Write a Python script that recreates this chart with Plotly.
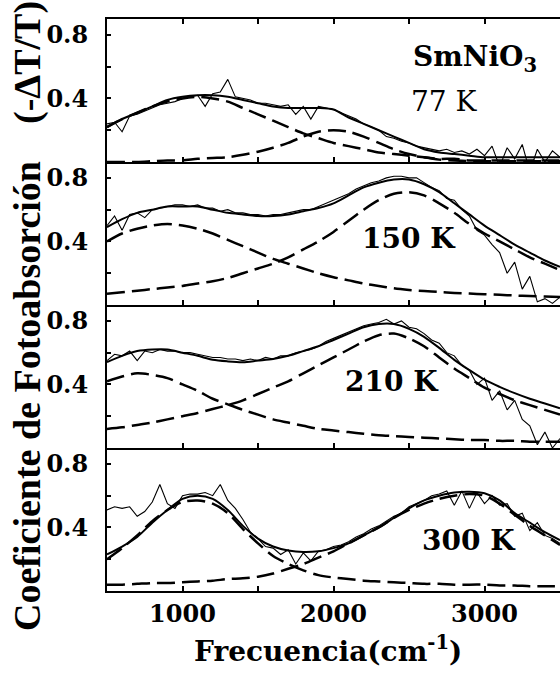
import plotly.graph_objects as go

# ---------------- data ----------------
freq_fit = [500, 600, 700, 800, 900, 1000, 1100, 1200, 1300, 1400, 1500, 1600, 1700, 1800, 1900, 2000,
            2100, 2200, 2300, 2400, 2500, 2600, 2700, 2800, 2900, 3000, 3100, 3200, 3300, 3400, 3500]
freq_exp = [500, 550, 600, 650, 700, 750, 800, 850, 900, 950, 1000, 1050, 1100, 1150, 1200, 1250, 1300,
            1350, 1400, 1450, 1500, 1550, 1600, 1650, 1700, 1750, 1800, 1850, 1900, 1950, 2000, 2050,
            2100, 2150, 2200, 2250, 2300, 2350, 2400, 2450, 2500, 2550, 2600, 2650, 2700, 2750, 2800,
            2850, 2900, 2950, 3000, 3050, 3100, 3150, 3200, 3250, 3300, 3350, 3400, 3450, 3500]

temps = ["77 K", "150 K", "210 K", "300 K"]

# 77 K
exp_77 = [0.24, 0.25, 0.19, 0.29, 0.30, 0.32, 0.34, 0.36, 0.37, 0.38, 0.40, 0.41, 0.42, 0.35, 0.43, 0.44,
          0.52, 0.41, 0.40, 0.39, 0.37, 0.37, 0.36, 0.35, 0.36, 0.30, 0.35, 0.27, 0.35, 0.34, 0.33, 0.31,
          0.29, 0.27, 0.24, 0.22, 0.20, 0.16, 0.15, 0.13, 0.12, 0.10, 0.09, 0.08, 0.07, 0.08, 0.06, 0.07,
          0.05, 0.08, 0.04, 0.10, -0.03, 0.09, 0.02, 0.11, -0.06, 0.08, 0.00, 0.07, 0.03]
fit_77 = [0.22, 0.27, 0.31, 0.35, 0.39, 0.41, 0.42, 0.42, 0.41, 0.39, 0.37, 0.35, 0.34, 0.34, 0.34, 0.33,
          0.28, 0.24, 0.20, 0.16, 0.12, 0.08, 0.06, 0.05, 0.04, 0.03, 0.03, 0.03, 0.03, 0.03, 0.03]
band1_77 = [0.22, 0.27, 0.31, 0.35, 0.38, 0.40, 0.41, 0.40, 0.38, 0.34, 0.30, 0.26, 0.22, 0.18, 0.15, 0.12,
            0.10, 0.08, 0.06, 0.05, 0.04, 0.03, 0.02, 0.02, 0.01, 0.01, 0.01, 0.01, 0.01, 0.01, 0.01]
band2_77 = [0.0, 0.0, 0.0, 0.005, 0.01, 0.01, 0.02, 0.025, 0.03, 0.045, 0.065, 0.09, 0.12, 0.16, 0.19, 0.20,
            0.19, 0.16, 0.12, 0.08, 0.05, 0.03, 0.015, 0.01, 0.005, 0.005, 0.005, 0.005, 0.005, 0.005, 0.005]

# 150 K
exp_150 = [0.50, 0.56, 0.47, 0.57, 0.58, 0.55, 0.60, 0.61, 0.62, 0.63, 0.63, 0.62, 0.63, 0.61, 0.61, 0.59,
           0.60, 0.58, 0.58, 0.57, 0.57, 0.56, 0.57, 0.57, 0.58, 0.59, 0.60, 0.60, 0.62, 0.64, 0.66, 0.68,
           0.70, 0.73, 0.75, 0.77, 0.78, 0.80, 0.81, 0.81, 0.80, 0.80, 0.77, 0.74, 0.72, 0.67, 0.66, 0.60,
           0.56, 0.47, 0.44, 0.38, 0.33, 0.20, 0.27, 0.10, 0.18, 0.02, 0.04, 0.01, 0.05]
fit_150 = [0.49, 0.54, 0.58, 0.60, 0.62, 0.62, 0.62, 0.60, 0.58, 0.57, 0.56, 0.56, 0.57, 0.59, 0.61, 0.64,
           0.69, 0.74, 0.77, 0.79, 0.79, 0.76, 0.71, 0.64, 0.57, 0.50, 0.44, 0.38, 0.33, 0.28, 0.24]
band1_150 = [0.40, 0.45, 0.48, 0.50, 0.51, 0.50, 0.48, 0.45, 0.41, 0.37, 0.33, 0.29, 0.26, 0.23, 0.20, 0.175,
             0.155, 0.135, 0.12, 0.105, 0.095, 0.088, 0.082, 0.076, 0.072, 0.068, 0.064, 0.06, 0.056, 0.053, 0.05]
band2_150 = [0.07, 0.08, 0.09, 0.10, 0.11, 0.12, 0.135, 0.15, 0.17, 0.20, 0.23, 0.26, 0.30, 0.35, 0.40, 0.46,
             0.53, 0.60, 0.66, 0.70, 0.71, 0.69, 0.64, 0.58, 0.51, 0.45, 0.40, 0.35, 0.30, 0.26, 0.22]

# 210 K
exp_210 = [0.55, 0.59, 0.58, 0.61, 0.55, 0.61, 0.60, 0.62, 0.61, 0.61, 0.60, 0.60, 0.59, 0.58, 0.57, 0.57,
           0.56, 0.56, 0.55, 0.56, 0.55, 0.57, 0.56, 0.58, 0.58, 0.60, 0.61, 0.62, 0.64, 0.67, 0.69, 0.71,
           0.73, 0.75, 0.77, 0.78, 0.79, 0.81, 0.78, 0.80, 0.76, 0.75, 0.72, 0.68, 0.66, 0.60, 0.58, 0.52,
           0.49, 0.40, 0.44, 0.30, 0.36, 0.24, 0.30, 0.18, 0.14, 0.02, 0.10, 0.00, 0.06]
fit_210 = [0.54, 0.58, 0.61, 0.62, 0.62, 0.60, 0.58, 0.555, 0.545, 0.54, 0.55, 0.56, 0.58, 0.61, 0.64, 0.68,
           0.72, 0.76, 0.78, 0.78, 0.75, 0.70, 0.63, 0.555, 0.49, 0.43, 0.385, 0.345, 0.31, 0.28, 0.25]
band1_210 = [0.42, 0.45, 0.47, 0.46, 0.44, 0.40, 0.36, 0.31, 0.275, 0.24, 0.21, 0.18, 0.16, 0.14, 0.12, 0.11,
             0.10, 0.09, 0.08, 0.075, 0.07, 0.065, 0.06, 0.055, 0.05, 0.05, 0.045, 0.045, 0.04, 0.04, 0.04]
band2_210 = [0.12, 0.13, 0.145, 0.16, 0.18, 0.20, 0.22, 0.245, 0.27, 0.30, 0.34, 0.38, 0.42, 0.47, 0.52, 0.57,
             0.62, 0.67, 0.71, 0.72, 0.69, 0.64, 0.57, 0.50, 0.44, 0.38, 0.34, 0.30, 0.27, 0.24, 0.21]

# 300 K
exp_300 = [0.51, 0.53, 0.52, 0.53, 0.47, 0.50, 0.56, 0.67, 0.55, 0.52, 0.60, 0.61, 0.61, 0.62, 0.60, 0.67,
           0.57, 0.52, 0.45, 0.37, 0.33, 0.28, 0.27, 0.23, 0.26, 0.17, 0.24, 0.19, 0.25, 0.26, 0.28, 0.29,
           0.31, 0.34, 0.36, 0.39, 0.41, 0.44, 0.47, 0.49, 0.53, 0.55, 0.57, 0.60, 0.61, 0.63, 0.54, 0.63,
           0.52, 0.62, 0.55, 0.60, 0.54, 0.55, 0.47, 0.49, 0.38, 0.43, 0.35, 0.33, 0.30]
fit_300 = [0.23, 0.28, 0.34, 0.43, 0.51, 0.58, 0.60, 0.58, 0.51, 0.41, 0.33, 0.28, 0.255, 0.245, 0.25, 0.27,
           0.30, 0.35, 0.40, 0.46, 0.52, 0.57, 0.60, 0.62, 0.625, 0.615, 0.57, 0.49, 0.43, 0.37, 0.32]
band1_300 = [0.20, 0.27, 0.35, 0.44, 0.51, 0.56, 0.57, 0.55, 0.49, 0.39, 0.30, 0.22, 0.17, 0.13, 0.10, 0.085,
             0.075, 0.065, 0.06, 0.055, 0.05, 0.045, 0.045, 0.04, 0.04, 0.04, 0.035, 0.035, 0.03, 0.03, 0.03]
band2_300 = [0.04, 0.04, 0.045, 0.05, 0.05, 0.055, 0.06, 0.065, 0.075, 0.08, 0.09, 0.11, 0.14, 0.17, 0.21, 0.25,
             0.30, 0.35, 0.40, 0.46, 0.51, 0.55, 0.58, 0.60, 0.61, 0.60, 0.55, 0.48, 0.41, 0.35, 0.29]

exp_sets = [exp_77, exp_150, exp_210, exp_300]
fit_sets = [fit_77, fit_150, fit_210, fit_300]
band1_sets = [band1_77, band1_150, band1_210, band1_300]
band2_sets = [band2_77, band2_150, band2_210, band2_300]

x_tickvals = [1000, 2000, 3000]
x_ticktext = ["1000", "2000", "3000"]
x_minor_vals = [1500, 2500]
y_tickvals = [0.4, 0.8]
y_ticktext = ["0.4", "0.8"]
y_minor_vals = [0.2, 0.6]

# ---------------- figure ----------------
W, H = 560, 677
ML, MR, MT, MB = 107, 0, 19, 86
BLACK = "#000000"
tick_font = dict(family="DejaVu Serif", size=24, color=BLACK, weight="bold")

fig = go.Figure()
n = 4
domains = [[1 - (i + 1) / n, 1 - i / n] for i in range(n)]

for i in range(n):
    xa = "x" if i == 0 else f"x{i+1}"
    ya = "y" if i == 0 else f"y{i+1}"
    fig.add_trace(go.Scatter(x=freq_exp, y=exp_sets[i], mode="lines", xaxis=xa, yaxis=ya,
                             line=dict(color=BLACK, width=1.1), showlegend=False, hoverinfo="skip"))
    fig.add_trace(go.Scatter(x=freq_fit, y=fit_sets[i], mode="lines", xaxis=xa, yaxis=ya,
                             line=dict(color=BLACK, width=2, shape="spline", smoothing=0.8),
                             showlegend=False, hoverinfo="skip"))
    for band in (band1_sets[i], band2_sets[i]):
        fig.add_trace(go.Scatter(x=freq_fit, y=band, mode="lines", xaxis=xa, yaxis=ya,
                                 line=dict(color=BLACK, width=2.5, dash="18px,7px",
                                           shape="spline", smoothing=0.8),
                                 showlegend=False, hoverinfo="skip"))

layout_axes = {}
for i in range(n):
    xkey = "xaxis" if i == 0 else f"xaxis{i+1}"
    ykey = "yaxis" if i == 0 else f"yaxis{i+1}"
    ya = "y" if i == 0 else f"y{i+1}"
    xa = "x" if i == 0 else f"x{i+1}"
    layout_axes[xkey] = dict(
        domain=[0, 1], anchor=ya, range=[500, 3500], showline=True, linewidth=2, linecolor=BLACK,
        mirror="ticks" if i == 0 else False, ticks="inside", ticklen=5, tickwidth=1.5, tickcolor=BLACK,
        tickvals=x_tickvals, ticktext=x_ticktext, showticklabels=(i == n - 1),
        minor=dict(tickvals=x_minor_vals, ticks="inside", ticklen=5, tickwidth=1.5, tickcolor=BLACK,
                   showgrid=False),
        tickfont=tick_font, ticklabelstandoff=0, showgrid=False, zeroline=False, fixedrange=True)
    layout_axes[ykey] = dict(
        domain=domains[i], anchor=xa, range=[0, 0.9], showline=True, linewidth=2, linecolor=BLACK,
        ticks="inside", ticklen=4, tickwidth=1.5, tickcolor=BLACK, tickvals=y_tickvals,
        ticktext=y_ticktext, tickfont=tick_font, ticklabelstandoff=12, showgrid=False,
        minor=dict(tickvals=y_minor_vals, ticks="inside", ticklen=4, tickwidth=1.5, tickcolor=BLACK,
                   showgrid=False),
        zeroline=False, fixedrange=True)

label_font = dict(family="DejaVu Serif", size=28, color=BLACK, weight="bold")


def ann(text, x, y, xref, yref, font, angle=0):
    return dict(text=text, x=x, y=y, xref=xref, yref=yref, showarrow=False, font=font,
                xanchor="center", yanchor="middle", textangle=angle)


def px_x(p):
    return (p - ML) / (W - ML - MR)


def px_y(p):
    return (H - MB - p) / (H - MT - MB)


title_font = dict(family="Liberation Serif", size=38, color=BLACK, weight="bold")
annotations = [
    ann("SmNiO<sub>3</sub>", 2937, 0.65, "x", "y", label_font),
    ann("77 K", 2738, 0.38, "x", "y", dict(family="DejaVu Serif", size=28, color=BLACK)),
    ann("150 K", 2500, 0.42, "x2", "y2", label_font),
    ann("210 K", 2387, 0.42, "x3", "y3", label_font),
    ann("300 K", 2897, 0.32, "x4", "y4", label_font),
    ann("Frecuencia(cm<sup>-1</sup>)", px_x(328), px_y(649), "paper", "paper", label_font),
    ann("Coeficiente de Fotoabsorción", px_x(27), px_y(396), "paper", "paper", title_font, -90),
    ann("(-ΔT/T)", px_x(28), px_y(63), "paper", "paper", title_font, -90),
]

fig.update_layout(
    width=W, height=H, margin=dict(l=ML, r=MR, t=MT, b=MB, autoexpand=False),
    paper_bgcolor="white", plot_bgcolor="white", annotations=annotations, **layout_axes)

fig.write_html("out.html", config={"displayModeBar": False},
               post_script="document.body.style.margin='0';")
